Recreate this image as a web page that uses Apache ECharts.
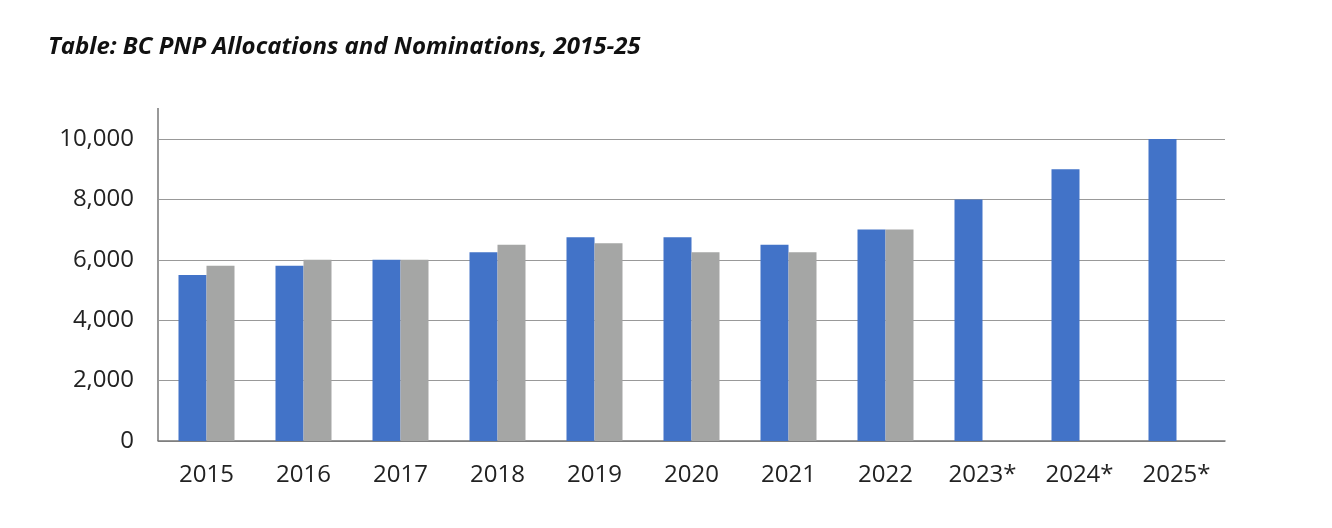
<!DOCTYPE html>
<html>
<head>
<meta charset="utf-8">
<script src="https://cdn.jsdelivr.net/npm/echarts@6/dist/echarts.min.js"></script>
<style>
html, body { margin: 0; padding: 0; background: #fff; }
#chart { width: 1332px; height: 528px; }
</style>
</head>
<body>
<div id="chart"></div>
<script>
var years = ['2015', '2016', '2017', '2018', '2019', '2020', '2021', '2022', '2023*', '2024*', '2025*'];
var allocations = [5500, 5800, 6000, 6250, 6750, 6750, 6500, 7000, 8000, 9000, 10000];
var nominations = [5800, 6000, 6000, 6500, 6550, 6250, 6250, 7000, null, null, null];

var chart = echarts.init(document.getElementById('chart'));
chart.setOption({
	animation : false,
	title : {
		text : 'Table: BC PNP Allocations and Nominations, 2015-25',
		left : 43,
		top : 30,
		textStyle : {
			fontFamily : 'Open Sans',
			fontSize : 24,
			fontWeight : 'bold',
			fontStyle : 'italic',
			color : '#111'
		}
	},
	grid : {
		left : 158,
		right : 107,
		top : 139,
		bottom : 87
	},
	xAxis : {
		type : 'category',
		data : years,
		axisLine : { lineStyle : { color : '#777', width : 1.5 } },
		axisTick : { length : 10, lineStyle : { color : '#777' } },
		axisLabel : {
			margin : 22,
			fontFamily : 'Open Sans',
			fontSize : 24,
			color : '#222'
		}
	},
	yAxis : {
		type : 'value',
		min : 0,
		max : 10000,
		interval : 2000,
		axisLine : { show : false },
		axisLabel : {
			margin : 24,
			fontFamily : 'Open Sans',
			fontSize : 24,
			color : '#222'
		},
		splitLine : { lineStyle : { color : '#999', width : 1.2 } }
	},
	graphic : [{
		type : 'line',
		shape : { x1 : 158, y1 : 108, x2 : 158, y2 : 441 },
		style : { stroke : '#777', lineWidth : 1.5 }
	}],
	series : [{
		name : 'Allocations',
		type : 'bar',
		data : allocations,
		barWidth : 28,
		barGap : '0%',
		itemStyle : { color : '#4273c8' }
	}, {
		name : 'Nominations',
		type : 'bar',
		data : nominations,
		barWidth : 28,
		itemStyle : { color : '#a5a6a5' }
	}]
});
</script>
</body>
</html>
